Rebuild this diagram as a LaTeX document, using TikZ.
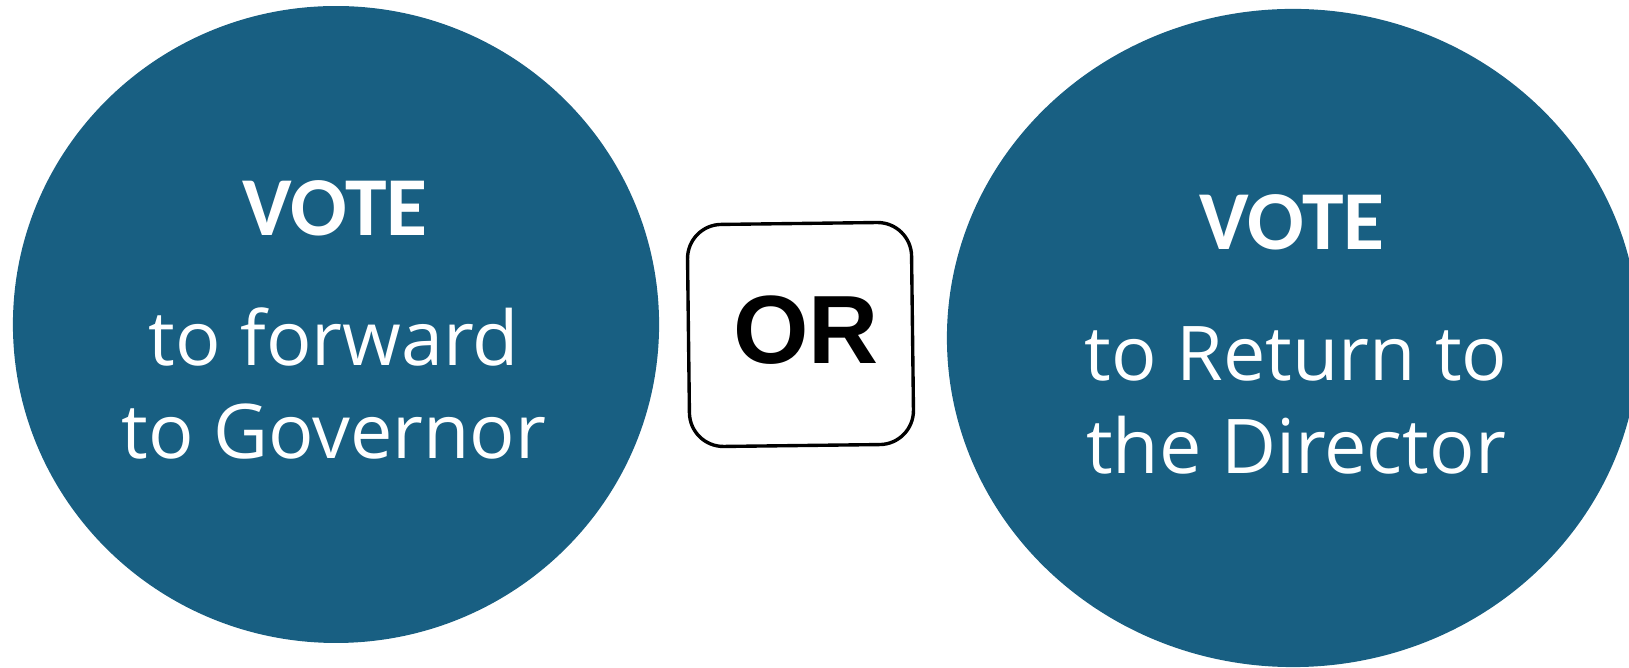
\documentclass[tikz,border=0pt]{standalone}
\usepackage{fontspec}
\setmainfont{Open Sans}
\newfontfamily\votefont{Carlito}
\newfontfamily\orfont{Liberation Sans}
\usetikzlibrary{shapes.geometric}
\definecolor{voteblue}{HTML}{185F82}
\tikzset{
  votebubble/.style={ellipse,fill=voteblue,draw=none,inner sep=0pt},
  votehead/.style={anchor=base,text=white,inner sep=0pt,font=\votefont\bfseries\fontsize{59.6}{64}\selectfont},
  voteline/.style={anchor=base,text=white,inner sep=0pt,font=\fontsize{53.7}{64}\selectfont},
  orbox/.style={draw=black,line width=2.4pt,rounded corners=0.85cm,minimum width=5.6cm,minimum height=5.55cm,rotate=0.7,fill=white}
}

\begin{document}
\begin{tikzpicture}[x=0.025cm,y=0.025cm]
    \useasboundingbox (0,0) rectangle (1629,668);
    \clip (0,0) rectangle (1629,668);
    % left choice
    \node[votebubble,minimum width=16.15cm,minimum height=15.92cm] (fwd) at (336,343.5) {};
    \node[votehead] (fwdvote) at (335,432) {VOTE};
    \node[voteline] (fwdtxt) at (334,302) {to forward};
    \node[voteline] (fwdgov) at (334,209) {to Governor};
    % right choice
    \node[votebubble,minimum width=17.3cm,minimum height=16.45cm] (ret) at (1293,330) {};
    \node[votehead] (retvote) at (1292,418) {VOTE};
    \node[voteline] (rettxt) at (1296,287) {to Return to};
    \node[voteline] (retdir) at (1296,194) {the Director};
    % or
    \node[orbox] (orsq) at (800.5,333.5) {};
    \node[anchor=base,inner sep=0pt,font=\orfont\bfseries\fontsize{69}{72}\selectfont] (ortxt) at (806,304) {OR};
\end{tikzpicture}
\end{document}
